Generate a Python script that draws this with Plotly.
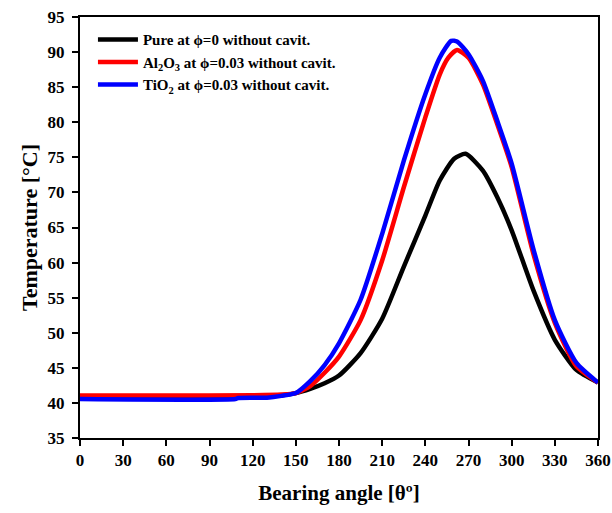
import plotly.graph_objects as go

angle_pure = [0, 60, 120, 140, 150, 160, 170, 180, 195, 210, 225, 240, 250, 260, 268, 280, 290, 300, 315, 330, 345, 360]
temp_pure = [40.8, 40.8, 40.9, 41.1, 41.4, 42.0, 42.8, 43.9, 47.1, 52.0, 59.4, 66.7, 71.7, 74.8, 75.5, 73.1, 69.3, 64.6, 56.1, 49.0, 44.7, 42.9]

angle_al = [0, 60, 120, 140, 150, 160, 170, 180, 195, 210, 225, 240, 250, 256, 262, 270, 280, 290, 300, 315, 330, 345, 360]
temp_al = [41.05, 41.05, 41.1, 41.2, 41.4, 42.4, 44.3, 46.6, 51.8, 60.3, 70.7, 80.7, 86.8, 89.2, 90.3, 89.2, 85.4, 79.7, 73.6, 61.3, 51.4, 45.2, 42.9]

angle_ti = [0, 108, 110, 130, 140, 150, 160, 170, 180, 195, 210, 225, 240, 250, 258, 262, 270, 280, 290, 300, 315, 330, 345, 360]
temp_ti = [40.55, 40.55, 40.7, 40.75, 41.0, 41.4, 43.1, 45.4, 48.5, 54.7, 64.1, 74.5, 84.0, 89.2, 91.6, 91.5, 89.7, 85.9, 80.2, 74.1, 62.0, 51.8, 45.7, 42.9]

names = [
    "<b>Pure at ϕ=0 without cavit.</b>",
    "<b>Al<sub>2</sub>O<sub>3</sub> at ϕ=0.03 without cavit.</b>",
    "<b>TiO<sub>2</sub> at ϕ=0.03 without cavit.</b>",
]
colors = ["#000000", "#ff0000", "#0000ff"]

x_ticks = list(range(0, 361, 30))
y_ticks = list(range(35, 96, 5))

fig = go.Figure()
for xs, ys, nm, c in zip([angle_pure, angle_al, angle_ti], [temp_pure, temp_al, temp_ti], names, colors):
    fig.add_trace(go.Scatter(x=xs, y=ys, mode="lines", name=nm,
                             line=dict(color=c, width=4.5, shape="spline", smoothing=0.6)))

font_family = "Liberation Serif"
fig.update_layout(
    width=612, height=513,
    margin=dict(l=80, r=14, t=17, b=75),
    paper_bgcolor="white", plot_bgcolor="white",
    font=dict(family=font_family, color="black"),
    showlegend=True,
    legend=dict(x=0.025, y=0.985, xanchor="left", yanchor="top",
                bgcolor="rgba(0,0,0,0)", tracegroupgap=0,
                font=dict(family=font_family, size=15, color="black"),
                itemwidth=40),
)
fig.update_xaxes(
    range=[0, 360], tickvals=x_ticks, ticktext=[f"<b>{v}</b>" for v in x_ticks],
    showline=True, linecolor="black", linewidth=2, mirror=True,
    ticks="outside", ticklen=6, tickwidth=2, tickcolor="black",
    showgrid=False, zeroline=False, automargin=False,
    tickfont=dict(family=font_family, size=17, color="black"),
    title=dict(text="<b>Bearing angle [θº]</b>", font=dict(family=font_family, size=21, color="black"), standoff=16),
)
fig.update_yaxes(
    range=[35, 95], tickvals=y_ticks, ticktext=[f"<b>{v}</b>" for v in y_ticks],
    showline=True, linecolor="black", linewidth=2, mirror=True,
    ticks="outside", ticklen=6, tickwidth=2, tickcolor="black",
    showgrid=False, zeroline=False, automargin=False, ticklabelstandoff=4,
    tickfont=dict(family=font_family, size=17, color="black"),
    title=dict(text="<b>Temperature [°C]</b>", font=dict(family=font_family, size=22, color="black"), standoff=4),
)

fig.write_html("out.html")
